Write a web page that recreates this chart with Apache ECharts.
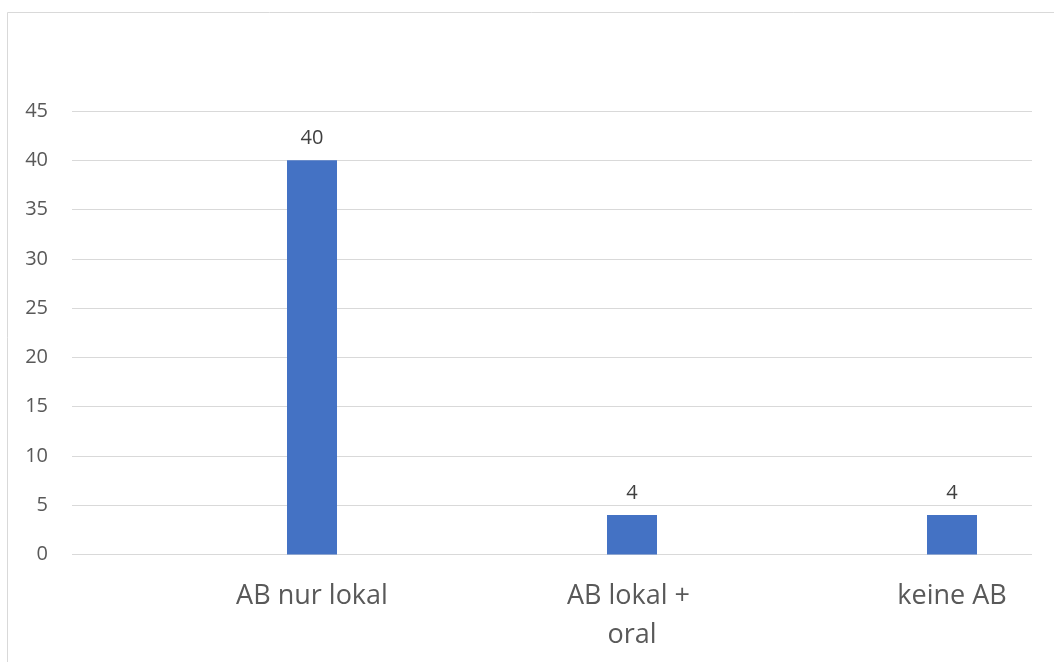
<!DOCTYPE html>
<html>
<head>
<meta charset="utf-8">
<script src="https://cdn.jsdelivr.net/npm/echarts@6/dist/echarts.min.js"></script>
<style>
  html, body { margin: 0; padding: 0; background: #ffffff; }
  #chart { width: 1054px; height: 662px; }
</style>
</head>
<body>
<div id="chart"></div>
<script>
// Behandlungsgruppen und Fallzahlen
const categories = ['AB nur lokal', 'AB lokal + oral', 'keine AB'];
const counts = [40, 4, 4];
const yTicks = { min: 0, max: 45, step: 5 };

const FONT = 'Open Sans, Liberation Sans, sans-serif';

// each group sits in the right half of its slot: an empty band precedes every category
const axisData = categories.flatMap(c => ['', c]);
const barData = counts.flatMap(v => ['-', v]);

const chart = echarts.init(document.getElementById('chart'), null, { renderer: 'canvas' });

chart.setOption({
  backgroundColor: '#ffffff',
  animation: false,
  textStyle: { fontFamily: FONT },
  graphic: [{
    type: 'rect',
    shape: { x: 7.5, y: 12.5, width: 1200, height: 800 },
    style: { fill: 'none', stroke: '#d9d9d9', lineWidth: 1 },
    silent: true
  }],
  grid: { left: 72, top: 111, width: 960, height: 443.5 },
  xAxis: {
    type: 'category',
    data: axisData,
    axisLine: { show: false },
    axisTick: { show: false },
    splitLine: { show: false },
    axisLabel: {
      interval: 0,
      margin: 22,
      fontSize: 27,
      color: '#595959',
      fontFamily: FONT,
      lineHeight: 39,
      width: 160,
      overflow: 'break'
    }
  },
  yAxis: {
    type: 'value',
    min: yTicks.min,
    max: yTicks.max,
    interval: yTicks.step,
    axisLine: { show: false },
    axisTick: { show: false },
    splitLine: { lineStyle: { color: '#d9d9d9', width: 1 } },
    axisLabel: { fontSize: 20, color: '#595959', margin: 24, fontFamily: FONT }
  },
  series: [{
    type: 'bar',
    data: barData,
    barWidth: 50,
    itemStyle: { color: '#4472c4' },
    label: {
      show: true,
      position: 'top',
      distance: 12,
      fontSize: 20,
      color: '#404040',
      fontFamily: FONT
    }
  }]
});
</script>
</body>
</html>
